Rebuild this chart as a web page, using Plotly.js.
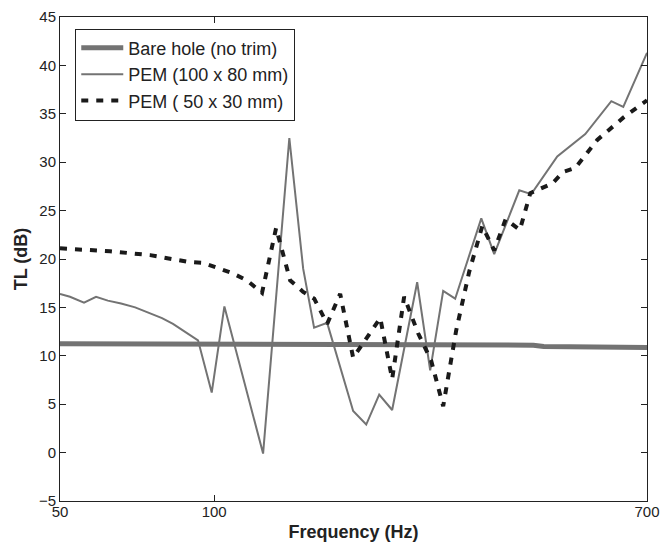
<!DOCTYPE html>
<html>
<head>
<meta charset="utf-8">
<script src="https://cdn.plot.ly/plotly-3.0.1.min.js"></script>
<style>html,body{margin:0;padding:0;background:#fff;}#chart{width:662px;height:542px;}</style>
</head>
<body>
<div id="chart"></div>
<script>
// Bare hole (no trim)
const freqBare = [50, 200, 420, 440, 560, 700];
const tlBare = [11.25, 11.2, 11.1, 10.95, 10.9, 10.85];

// PEM (100 x 80 mm)
const freqPem100 = [50, 52.3, 55.7, 58.8, 62.0, 65.8, 70.1, 74.3, 79.1, 83.1, 87.7, 93.0, 98.9, 104.7, 124.6, 140.2, 149.2, 156.7, 166.2, 186.8, 198.1, 210.0, 222.6, 249.1, 264.1, 280.0, 295.5, 332.3, 352.2, 394.2, 416.0, 467.6, 530.4, 596.2, 629.2, 700];
const tlPem100 = [16.4, 16.1, 15.5, 16.1, 15.7, 15.4, 15.0, 14.5, 13.9, 13.3, 12.5, 11.6, 6.2, 15.1, -0.1, 32.5, 19.0, 12.9, 13.4, 4.3, 2.9, 6.0, 4.4, 17.6, 8.5, 16.7, 15.9, 24.2, 20.5, 27.1, 26.7, 30.6, 32.9, 36.3, 35.7, 41.3];

// PEM ( 50 x 30 mm)
const freqPem50 = [50, 62.6, 75.0, 88.9, 95.1, 108.9, 115.8, 124.0, 132.1, 140.7, 149.2, 156.8, 166.2, 176.2, 186.8, 198.1, 211.0, 222.6, 234.9, 250.3, 265.3, 280.0, 296.8, 314.8, 333.8, 352.2, 370.7, 395.2, 414.2, 457.3, 480.4, 507.0, 559.7, 629.2, 700];
const tlPem50 = [21.1, 20.8, 20.4, 19.7, 19.6, 18.5, 17.8, 16.5, 23.2, 17.8, 16.6, 15.9, 13.3, 16.4, 9.8, 11.8, 13.9, 7.6, 16.1, 12.3, 9.5, 4.8, 12.6, 18.7, 23.4, 20.9, 24.1, 23.0, 26.8, 27.8, 29.0, 29.4, 32.3, 34.6, 36.4];

const xTickVals = [50, 100, 700];
const xTickText = ['50', '100', '700'];

const FONT = '"Liberation Sans", Arial, Helvetica, sans-serif';

const traces = [
  {x: freqBare, y: tlBare, name: 'Bare hole (no trim)', mode: 'lines', legendgroup: 'a',
   line: {color: '#737373', width: 5}},
  {x: freqPem100, y: tlPem100, name: 'PEM (100 x 80 mm)', mode: 'lines', legendgroup: 'b',
   line: {color: '#737373', width: 2}},
  {x: freqPem50, y: tlPem50, name: 'PEM ( 50 x 30 mm)', mode: 'lines', legendgroup: 'c',
   line: {color: '#1a1a1a', width: 4, dash: '7px,8px'}}
];

const layout = {
  width: 662, height: 542,
  margin: {l: 60, r: 15, t: 17, b: 41, pad: 0},
  paper_bgcolor: '#fff', plot_bgcolor: '#fff',
  font: {family: FONT, size: 15, color: '#222'},
  showlegend: true,
  legend: {
    x: 0.026, y: 0.976, xanchor: 'left', yanchor: 'top',
    bgcolor: '#fff', bordercolor: '#222', borderwidth: 1,
    font: {family: FONT, size: 18, color: '#222'},
    traceorder: 'grouped', tracegroupgap: 0, itemwidth: 42
  },
  xaxis: {
    type: 'log', range: [Math.log10(50), Math.log10(700)],
    tickmode: 'array', tickvals: xTickVals, ticktext: xTickText,
    ticks: 'inside', ticklen: 6, tickcolor: '#222', tickwidth: 1,
    ticklabelstandoff: -3,
    showline: true, linecolor: '#222', linewidth: 1, mirror: 'ticks',
    showgrid: false, zeroline: false,
    tickfont: {family: FONT, size: 15, color: '#222'},
    title: {text: 'Frequency (Hz)', font: {family: FONT, size: 18, color: '#222', weight: 'bold'}, standoff: 6}
  },
  yaxis: {
    range: [-5, 45], dtick: 5, tick0: 0,
    ticks: 'inside', ticklen: 6, tickcolor: '#222', tickwidth: 1,
    showline: true, linecolor: '#222', linewidth: 1, mirror: 'ticks',
    showgrid: false, zeroline: false,
    tickfont: {family: FONT, size: 15, color: '#222'},
    title: {text: 'TL (dB)', font: {family: FONT, size: 18, color: '#222', weight: 'bold'}, standoff: 6}
  }
};

Plotly.newPlot('chart', traces, layout, {displayModeBar: false, staticPlot: true});
</script>
</body>
</html>
